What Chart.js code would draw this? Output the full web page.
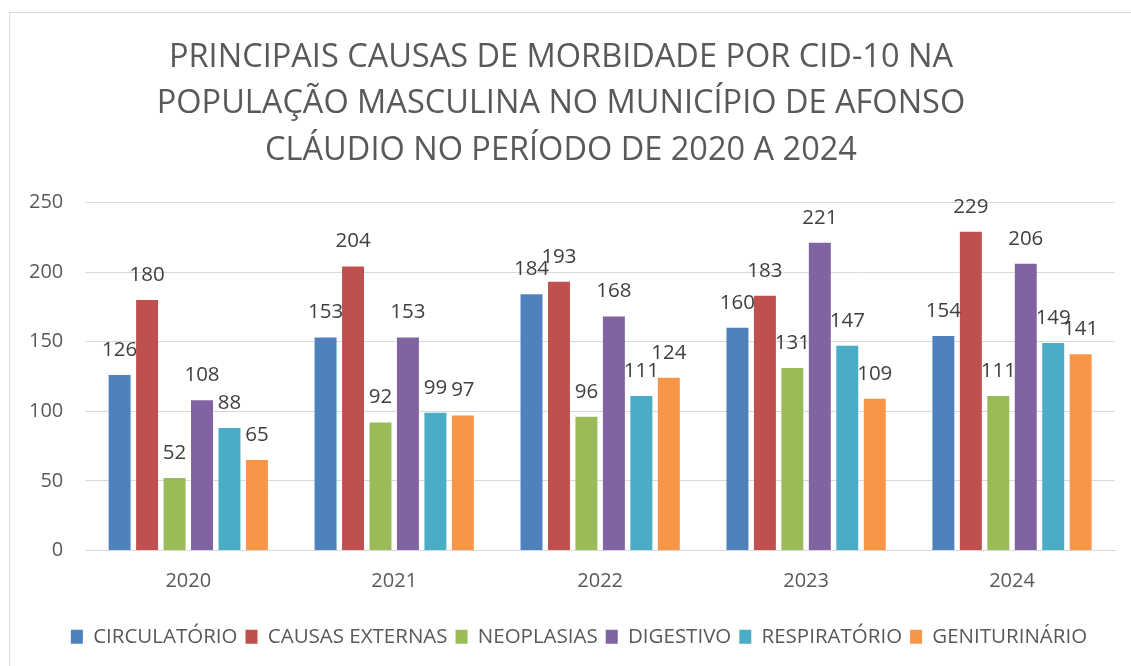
<!DOCTYPE html>
<html>
<head>
<meta charset="utf-8">
<script src="https://cdn.jsdelivr.net/npm/chart.js@4.4.1/dist/chart.umd.min.js"></script>
<style>
  html, body { margin: 0; padding: 0; background: #ffffff; }
  #wrap { position: absolute; left: 0; top: 0; width: 1131px; height: 666px; }
  #frame { position: absolute; left: 9px; top: 12px; width: 1140px; height: 680px; border: 1px solid #d9d9d9; box-sizing: border-box; }
  canvas { position: absolute; left: 0; top: 0; }
</style>
</head>
<body>
<div id="wrap">
  <div id="frame"></div>
  <canvas id="chart" width="1131" height="666"></canvas>
</div>
<script>
const years = ['2020', '2021', '2022', '2023', '2024'];
const seriesNames = ['CIRCULATÓRIO', 'CAUSAS EXTERNAS', 'NEOPLASIAS', 'DIGESTIVO', 'RESPIRATÓRIO', 'GENITURINÁRIO'];
const circulatorio = [126, 153, 184, 160, 154];
const causasExternas = [180, 204, 193, 183, 229];
const neoplasias = [52, 92, 96, 131, 111];
const digestivo = [108, 153, 168, 221, 206];
const respiratorio = [88, 99, 111, 147, 149];
const geniturinario = [65, 97, 124, 109, 141];
const yTicks = [0, 50, 100, 150, 200, 250];

const seriesColors = ['#4f81bd', '#c0504d', '#9bbb59', '#8064a2', '#4bacc6', '#f79646'];
const seriesValues = [circulatorio, causasExternas, neoplasias, digestivo, respiratorio, geniturinario];

const FONT = "'Open Sans', sans-serif";

// value labels drawn above each bar
const barValueLabels = {
  id: 'barValueLabels',
  afterDatasetsDraw(chart) {
    const ctx = chart.ctx;
    ctx.save();
    ctx.font = '20.5px ' + FONT;
    ctx.fillStyle = '#404040';
    ctx.textAlign = 'center';
    ctx.textBaseline = 'middle';
    chart.data.datasets.forEach((ds, i) => {
      const meta = chart.getDatasetMeta(i);
      if (meta.hidden) return;
      meta.data.forEach((bar, j) => {
        ctx.fillText(String(ds.data[j]), bar.x, bar.y - 25);
      });
    });
    ctx.restore();
  }
};

// nudge the legend row a little to the right
const legendShift = {
  id: 'legendShift',
  afterLayout(chart) {
    if (chart.legend) {
      chart.legend.left += 18;
      chart.legend.right += 18;
    }
  }
};

new Chart(document.getElementById('chart'), {
  type: 'bar',
  data: {
    labels: years,
    datasets: seriesNames.map((name, i) => ({
      label: name,
      data: seriesValues[i],
      backgroundColor: seriesColors[i],
      borderWidth: 0,
      barPercentage: 0.8,
      categoryPercentage: 0.8
    }))
  },
  options: {
    responsive: false,
    animation: false,
    layout: { padding: { left: 7, right: 16, top: 35, bottom: 9 } },
    plugins: {
      title: {
        display: true,
        text: [
          'PRINCIPAIS CAUSAS DE MORBIDADE POR CID-10 NA',
          'POPULAÇÃO MASCULINA NO MUNICÍPIO DE AFONSO',
          'CLÁUDIO NO PERÍODO DE 2020 A 2024'
        ],
        color: '#595959',
        font: { family: FONT, size: 32.5, weight: 'normal', lineHeight: 1.42 },
        padding: { top: 0, bottom: 29 }
      },
      legend: {
        position: 'bottom',
        labels: {
          color: '#595959',
          font: { family: FONT, size: 20.5 },
          boxWidth: 12,
          boxHeight: 14,
          padding: 8
        }
      },
      tooltip: { enabled: false }
    },
    scales: {
      x: {
        grid: { display: false },
        border: { color: '#d9d9d9' },
        ticks: { color: '#595959', font: { family: FONT, size: 20 }, padding: 11 },
        afterFit(axis) { axis.height += 14; }
      },
      y: {
        min: 0,
        max: 250,
        afterBuildTicks(axis) { axis.ticks = yTicks.map(v => ({ value: v })); },
        grid: { color: '#d9d9d9', lineWidth: 1, drawTicks: false },
        border: { display: false },
        ticks: { color: '#595959', font: { family: FONT, size: 20 }, padding: 22 }
      }
    }
  },
  plugins: [barValueLabels, legendShift]
});
</script>
</body>
</html>
